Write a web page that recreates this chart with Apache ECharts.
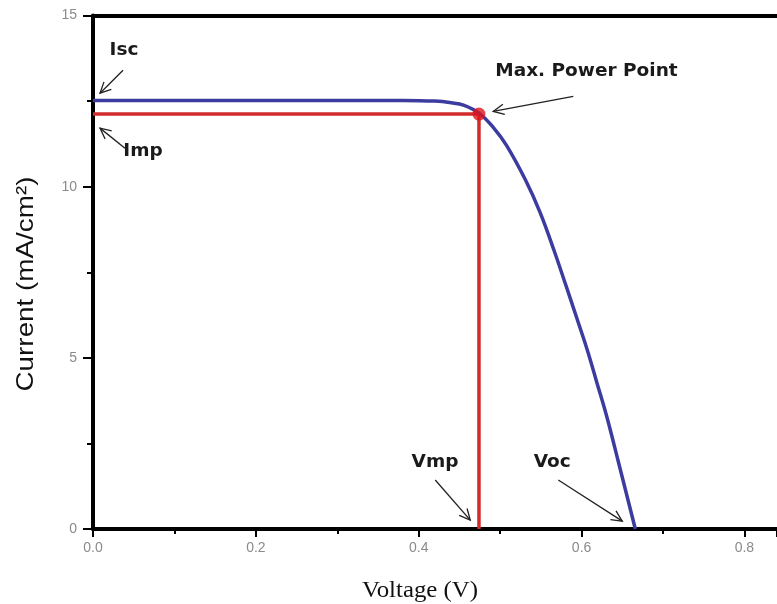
<!DOCTYPE html>
<html><head><meta charset="utf-8">
<script src="https://cdn.jsdelivr.net/npm/echarts@6/dist/echarts.min.js"></script>
<style>html,body{margin:0;padding:0;background:#fff}#c{width:777px;height:604px}</style>
</head><body><div id="c"></div>
<script>
// ---- data ----
const voltage = [0, 0.1, 0.2, 0.3, 0.38, 0.42, 0.44, 0.455, 0.474, 0.492, 0.508, 0.531, 0.549, 0.566, 0.580, 0.594, 0.607, 0.619, 0.631, 0.645, 0.666];
const current = [12.52, 12.52, 12.52, 12.52, 12.52, 12.5, 12.45, 12.38, 12.15, 11.72, 11.2, 10.2, 9.25, 8.15, 7.17, 6.17, 5.23, 4.26, 3.28, 1.98, 0];
const Vmp = 0.474;
const Imp = 12.12;
const xTickLabels = ['0.0', '0.2', '0.4', '0.6', '0.8'];
const yTickLabels = ['0', '5', '10', '15'];
const annoNames = ['Isc', 'Imp', 'Max. Power Point', 'Vmp', 'Voc'];

// ---- annotation placement (data coordinates) ----
const annoTextAt    = [[0.038, 13.99], [0.0614, 11.03], [0.606, 13.37], [0.420, 1.96], [0.564, 1.96]];
const annoArrowFrom = [[0.0369, 13.40], [0.0393, 11.12], [0.5898, 12.64], [0.4203, 1.43], [0.5714, 1.43]];
const annoArrowTo   = [[0.0086, 12.73], [0.0086, 11.71], [0.4915, 12.20], [0.4633, 0.26], [0.650, 0.23]];

const curve = voltage.map((v, i) => [v, current[i]]);
const mppLines = [[0, Imp], [Vmp, Imp], [Vmp, 0]];
const arrows = annoArrowFrom.map((f, i) => [f[0], f[1], annoArrowTo[i][0], annoArrowTo[i][1]]);
const texts = annoTextAt.map((p, i) => [p[0], p[1], i]);

const chart = echarts.init(document.getElementById('c'), null, {renderer: 'canvas'});

function arrowItem(params, api) {
  const p0 = api.coord([api.value(0), api.value(1)]);
  const p1 = api.coord([api.value(2), api.value(3)]);
  const ang = Math.atan2(p1[1] - p0[1], p1[0] - p0[0]);
  const L = 12, a = 0.45;
  const h1 = [p1[0] - L * Math.cos(ang - a), p1[1] - L * Math.sin(ang - a)];
  const h2 = [p1[0] - L * Math.cos(ang + a), p1[1] - L * Math.sin(ang + a)];
  return {type: 'group', children: [
    {type: 'line', shape: {x1: p0[0], y1: p0[1], x2: p1[0], y2: p1[1]}, style: {stroke: '#222', lineWidth: 1.3}},
    {type: 'polyline', shape: {points: [h1, p1, h2]}, style: {stroke: '#222', lineWidth: 1.3, fill: null}}
  ]};
}
function textItem(params, api) {
  const p = api.coord([api.value(0), api.value(1)]);
  return {type: 'text', x: p[0], y: p[1], style: {
    text: annoNames[api.value(2)], fill: '#1a1a1a', font: 'bold 18.5px "DejaVu Sans"',
    align: 'center', verticalAlign: 'middle'}};
}
const isMult = (v, step) => Math.abs(v / step - Math.round(v / step)) < 1e-6;

const option = {
  animation: false,
  backgroundColor: '#fff',
  grid: {left: 93, right: 0, top: 15.5, bottom: 75, containLabel: false, outerBoundsMode: 'none'},
  xAxis: [{
    type: 'value', min: 0, max: 0.84, interval: 0.2, position: 'bottom',
    axisLine: {show: true, lineStyle: {color: '#000', width: 4}},
    axisTick: {show: true, length: 8, lineStyle: {color: '#000', width: 2}},
    minorTick: {show: true, splitNumber: 2, length: 5, lineStyle: {color: '#000', width: 2}},
    splitLine: {show: false}, minorSplitLine: {show: false},
    axisLabel: {color: '#8a8a8a', fontSize: 14, fontFamily: 'Liberation Sans', margin: 12,
      formatter: v => { if (!isMult(v, 0.2)) return ''; const s = v.toFixed(1); return xTickLabels.includes(s) ? s : ''; }}
  }, {
    type: 'value', min: 0, max: 0.84, position: 'top',
    axisLine: {show: true, lineStyle: {color: '#000', width: 4}},
    axisTick: {show: false}, axisLabel: {show: false}, splitLine: {show: false}
  }],
  yAxis: {
    type: 'value', min: 0, max: 15, interval: 5,
    axisLine: {show: true, lineStyle: {color: '#000', width: 4}},
    axisTick: {show: true, length: 10, lineStyle: {color: '#000', width: 2}},
    minorTick: {show: true, splitNumber: 2, length: 6, lineStyle: {color: '#000', width: 2}},
    splitLine: {show: false},
    axisLabel: {color: '#8a8a8a', fontSize: 14, fontFamily: 'Liberation Sans', margin: 16,
      formatter: v => { const s = String(Math.round(v)); return yTickLabels.includes(s) ? s : ''; }}
  },
  graphic: [
    {type: 'text', x: 420, y: 591, scaleX: 1.08, style: {text: 'Voltage (V)', font: '23px "Liberation Serif"', fill: '#111', align: 'center', verticalAlign: 'middle'}},
    {type: 'text', x: 26, y: 284, rotation: Math.PI / 2, scaleX: 1.16, style: {text: 'Current (mA/cm²)', font: '24px "Liberation Sans"', fill: '#111', align: 'center', verticalAlign: 'middle'}}
  ],
  series: [
    {type: 'line', name: 'MPP', data: mppLines, symbol: 'none', z: 2,
      lineStyle: {color: '#d22b2b', width: 3.5}},
    {type: 'line', name: 'I-V', data: curve, symbol: 'none', smooth: 0.4, z: 3,
      lineStyle: {color: '#3c3ca0', width: 3.5}},
    {type: 'scatter', name: 'Max. Power Point', data: [[Vmp, Imp]], symbolSize: 13, z: 4,
      itemStyle: {color: '#e0151b'}},
    {type: 'custom', name: 'arrows', data: arrows, renderItem: arrowItem, z: 5, clip: false,
      encode: {x: [0, 2], y: [1, 3]}},
    {type: 'custom', name: 'labels', data: texts, renderItem: textItem, z: 5, clip: false,
      encode: {x: 0, y: 1}}
  ]
};
chart.setOption(option);
</script></body></html>
